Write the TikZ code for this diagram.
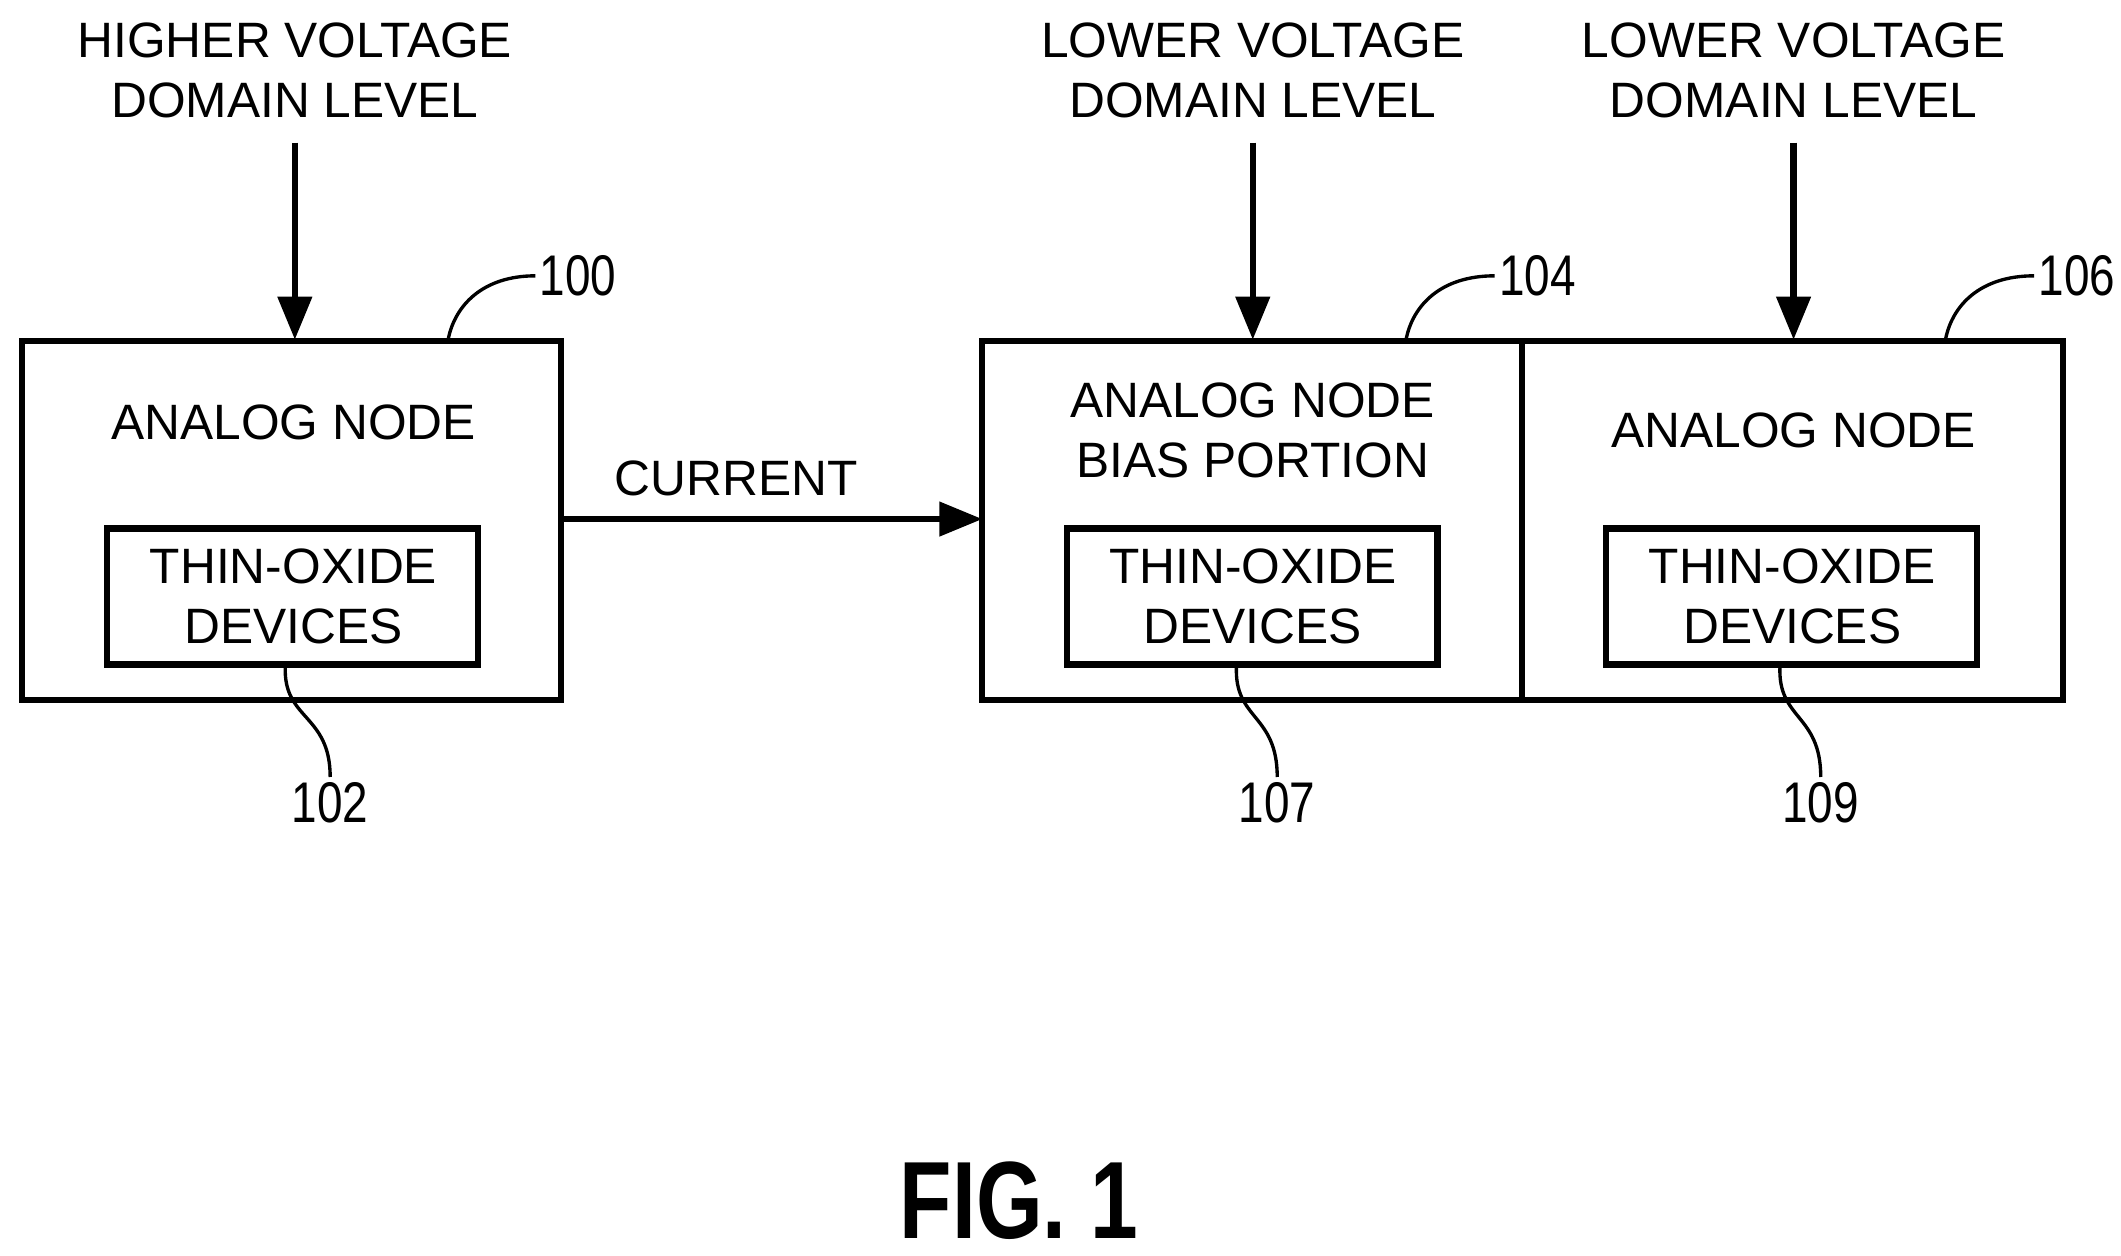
\documentclass[tikz,border=0pt]{standalone}
\usepackage{fontspec}
\setmainfont{Liberation Sans}
\usetikzlibrary{arrows.meta}
\begin{document}
\begin{tikzpicture}[x=0.01cm,y=-0.01cm,
  box/.style={draw,line width=1.3pt},
  txt/.style={font=\fontsize{10.4}{12.6}\selectfont,align=center},
  num/.style={font=\fontsize{12}{13}\selectfont,inner sep=1pt},
  arr/.style={-{Triangle[length=9pt,width=7pt]},line width=1.3pt},
  lead/.style={line width=0.7pt}]
\useasboundingbox (0,0) rectangle (1561,924);
% boxes
\draw[box] (16,251) rectangle (413,515);
\draw[box] (79,389) rectangle (352,489);
\draw[box] (723,251) rectangle (1120,515);
\draw[box] (785,389) rectangle (1058,489);
\draw[box] (1120,251) rectangle (1518,515);
\draw[box] (1182,389) rectangle (1455,489);
% texts
\node[txt] (t1) at (217,52) {HIGHER VOLTAGE\\DOMAIN LEVEL};
\node[txt] (t2) at (922,52) {LOWER VOLTAGE\\DOMAIN LEVEL};
\node[txt] (t3) at (1320,52) {LOWER VOLTAGE\\DOMAIN LEVEL};
\node[txt] (a1) at (216,311) {ANALOG NODE};
\node[txt] (a2) at (922,317) {ANALOG NODE\\BIAS PORTION};
\node[txt] (a3) at (1320,317) {ANALOG NODE};
\node[txt] (d1) at (216,439) {THIN-OXIDE\\DEVICES};
\node[txt] (d2) at (922,439) {THIN-OXIDE\\DEVICES};
\node[txt] (d3) at (1319,439) {THIN-OXIDE\\DEVICES};
\node[txt] (cur) at (542,352) {CURRENT};
% arrows
\coordinate (b1) at (217,250); \coordinate (b2) at (922,250); \coordinate (b3) at (1320,250);
\draw[arr] (217,105) -- (b1);
\draw[arr] (922,105) -- (b2);
\draw[arr] (1320,105) -- (b3);
\draw[arr] (415,382) -- (723,382);
% reference numbers
\node[num,anchor=west,xscale=0.8,transform shape] (n100) at (394,203) {100};
\node[num,anchor=west,xscale=0.8,transform shape] (n104) at (1100,203) {104};
\node[num,anchor=west,xscale=0.8,transform shape] (n106) at (1497,203) {106};
\draw[lead] (330,249) .. controls (335,225) and (355,203) .. (n100.west);
\draw[lead] (1035,249) .. controls (1040,225) and (1060,203) .. (n104.west);
\draw[lead] (1432,249) .. controls (1437,225) and (1457,203) .. (n106.west);
\node[num,xscale=0.8,transform shape] (n102) at (243,591) {102};
\node[num,xscale=0.8,transform shape] (n107) at (940,591) {107};
\node[num,xscale=0.8,transform shape] (n109) at (1340,591) {109};
\draw[lead] (210,490) .. controls (208,530) and (243,525) .. (n102.north);
\draw[lead] (910,490) .. controls (908,530) and (940,525) .. (n107.north);
\draw[lead] (1310,490) .. controls (1308,530) and (1340,525) .. (n109.north);
\node[font=\fontsize{23}{26}\selectfont\bfseries,xscale=0.78,transform shape,inner sep=1pt] (fig) at (750,884) {FIG. 1};
\end{tikzpicture}
\end{document}
